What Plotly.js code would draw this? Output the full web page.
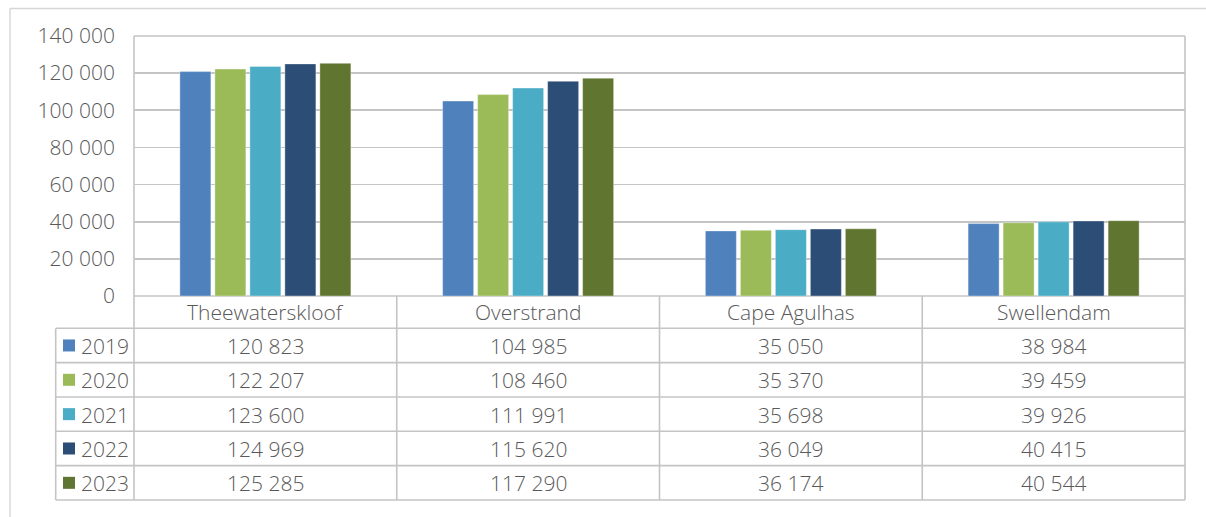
<!DOCTYPE html>
<html><head><meta charset="utf-8">
<script src="https://cdn.plot.ly/plotly-3.0.1.min.js"></script>
<style>html,body{margin:0;padding:0;background:#fff}</style>
</head><body>
<div id="chart" style="width:1206px;height:517px"></div>
<script>
const categories = ['Theewaterskloof', 'Overstrand', 'Cape Agulhas', 'Swellendam'];
const years = ['2019', '2020', '2021', '2022', '2023'];
const values2019 = [120823, 104985, 35050, 38984];
const values2020 = [122207, 108460, 35370, 39459];
const values2021 = [123600, 111991, 35698, 39926];
const values2022 = [124969, 115620, 36049, 40415];
const values2023 = [125285, 117290, 36174, 40544];
const yTickValues = [0, 20000, 40000, 60000, 80000, 100000, 120000, 140000];

const seriesValues = [values2019, values2020, values2021, values2022, values2023];
const colors = ['#4F81BD', '#9BBB59', '#4BACC6', '#2C4D75', '#5F7530'];
const textColor = '#595959';
const lineColor = '#c4c4c4';
const fontFamily = '"Open Sans", "Noto Sans", sans-serif';
const fontSize = 21;
const fontWeight = 300;

function fmt(n) { return String(n).replace(/\B(?=(\d{3})+(?!\d))/g, ' '); }

// pixel geometry helpers (plot area: x 134..1185, y 36..296)
const L = 134, R = 1185, T = 36, B = 296;
const px = x => (x - L) / (R - L);
const py = y => (B - y) / (B - T);

const headerBottom = 328.3;
const rowH = 34.34;
const tableBottom = headerBottom + rowH * years.length;
const leftCol = 55.7;

const traces = years.map((yr, k) => ({
  type: 'bar',
  name: yr,
  x: categories.map((c, i) => i),
  y: seriesValues[k],
  marker: {color: colors[k], line: {color: 'rgba(255,255,255,0.6)', width: 0.6}},
  hoverinfo: 'y'
}));

const shapes = [];
const line = (x0, y0, x1, y1, color, width) => shapes.push({
  type: 'line', xref: 'paper', yref: 'paper', x0, y0, x1, y1, layer: 'below',
  line: {color: color || lineColor, width: width || 1.6}
});

// outer frame
line(px(10), py(8.5), px(1206), py(8.5), '#d6d6d6', 1.4);
line(px(10), py(8.5), px(10), py(517), '#d6d6d6', 1.4);

// plot frame
line(0, 1, 1, 1);
line(0, 0, 1, 0);
line(0, py(tableBottom), 0, 1);
line(1, py(tableBottom), 1, 1);
// category separators in table
for (let i = 1; i < categories.length; i++) {
  line(i / categories.length, 0, i / categories.length, py(tableBottom));
}
// table horizontal lines
for (let k = 0; k <= years.length; k++) {
  const yy = py(headerBottom + rowH * k);
  line(px(leftCol), yy, 1, yy);
}
line(px(leftCol), py(headerBottom), px(leftCol), py(tableBottom));

const font = {family: fontFamily, size: fontSize, color: textColor, weight: fontWeight};
const annotations = [];
const ann = (x, xref, y, text, xanchor) => annotations.push({
  x, xref, y, yref: 'paper', text, showarrow: false, xanchor: xanchor || 'center', yanchor: 'middle',
  font
});

// header labels
categories.forEach((c, i) => ann(i, 'x', py((B + headerBottom) / 2), c));
// rows
years.forEach((yr, k) => {
  const cy = headerBottom + rowH * (k + 0.5);
  shapes.push({type: 'rect', xref: 'paper', yref: 'paper',
    x0: px(63), x1: px(75), y0: py(cy - 6), y1: py(cy + 6),
    fillcolor: colors[k], line: {width: 0}});
  ann(px(79), 'paper', py(cy + 0.5), yr, 'left');
  categories.forEach((c, i) => ann(i, 'x', py(cy + 0.5), fmt(seriesValues[k][i])));
});

const layout = {
  width: 1206, height: 517,
  margin: {l: L, r: 1206 - R, t: T, b: 517 - B},
  paper_bgcolor: '#fff', plot_bgcolor: '#fff',
  showlegend: false,
  barmode: 'group',
  bargap: 0.334,
  bargroupgap: 0.114,
  font,
  xaxis: {range: [-0.5, categories.length - 0.5], showticklabels: false, showgrid: false,
          zeroline: false, showline: false, ticks: '', fixedrange: true},
  yaxis: {range: [0, 140000], tickvals: yTickValues, ticktext: yTickValues.map(fmt),
          showgrid: true, gridcolor: lineColor, gridwidth: 1.6, zeroline: false, showline: false,
          ticks: '', ticklabelstandoff: 18, tickfont: font,
          fixedrange: true},
  shapes, annotations
};

Plotly.newPlot('chart', traces, layout, {displayModeBar: false, staticPlot: true});
</script>
</body></html>
